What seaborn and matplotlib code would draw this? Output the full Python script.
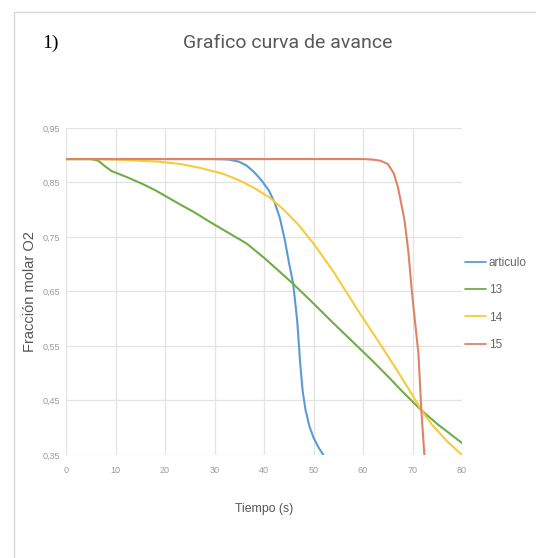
import numpy as np
import pandas as pd
import matplotlib
matplotlib.use("Agg")
import matplotlib.pyplot as plt
import seaborn as sns
from matplotlib.patches import Rectangle

# ---- data ----
series_names = ["articulo", "13", "14", "15"]

t_articulo = [0, 10, 20, 30, 33, 35, 36.5, 38, 39.5, 41, 42.2, 43.2, 44.2, 45, 45.9, 46.7, 47.3, 47.8, 48.4, 49.2, 50, 51, 52]
v_articulo = [0.893, 0.893, 0.893, 0.893, 0.892, 0.888, 0.881, 0.869, 0.854, 0.835, 0.812, 0.785, 0.745, 0.705, 0.664, 0.597, 0.52, 0.468, 0.432, 0.402, 0.382, 0.364, 0.35]

t_13 = [0, 5, 6.5, 8, 9.2, 12, 15.3, 18, 23, 26, 29, 32, 36.5, 40, 43.2, 45.9, 50, 54, 58, 62, 65.7, 68, 71.8, 75, 78, 80]
v_13 = [0.893, 0.893, 0.89, 0.879, 0.871, 0.861, 0.848, 0.836, 0.81, 0.795, 0.778, 0.762, 0.738, 0.712, 0.686, 0.664, 0.628, 0.592, 0.557, 0.522, 0.488, 0.466, 0.432, 0.407, 0.386, 0.372]

t_14 = [0, 5, 10, 15, 19, 23, 27, 31.7, 35, 38, 41.2, 44, 47, 50, 54, 59, 63, 66.9, 69.5, 71.8, 74, 77, 80]
v_14 = [0.893, 0.893, 0.892, 0.89, 0.888, 0.884, 0.877, 0.866, 0.854, 0.84, 0.822, 0.80, 0.772, 0.738, 0.687, 0.615, 0.56, 0.505, 0.467, 0.432, 0.405, 0.375, 0.35]

t_15 = [0, 10, 20, 30, 40, 50, 60, 62, 63.5, 65, 66.2, 67.1, 68.4, 69.2, 69.8, 70.5, 71.2, 71.8, 72.4]
v_15 = [0.893, 0.893, 0.893, 0.893, 0.893, 0.893, 0.893, 0.892, 0.89, 0.884, 0.867, 0.84, 0.78, 0.72, 0.657, 0.595, 0.536, 0.43, 0.35]

x_ticks = [0, 10, 20, 30, 40, 50, 60, 70, 80]
y_ticks = [0.35, 0.45, 0.55, 0.65, 0.75, 0.85, 0.95]
y_tick_labels = ["0,35", "0,45", "0,55", "0,65", "0,75", "0,85", "0,95"]

title_text = "Grafico curva de avance"
x_label = "Tiempo (s)"
y_label = "Fracción molar O2"
corner_label = "1)"

colors = ["#5B9BD5", "#70AD47", "#F7CB3A", "#DE8466"]

frames = []
for name, t, v in [("articulo", t_articulo, v_articulo), ("13", t_13, v_13),
                   ("14", t_14, v_14), ("15", t_15, v_15)]:
    frames.append(pd.DataFrame({"Tiempo": t, "Fraccion": v, "Serie": name}))
df = pd.concat(frames, ignore_index=True)

# ---- figure ----
sns.set_theme(style="whitegrid")
plt.rcParams["font.family"] = ["Liberation Sans", "DejaVu Sans"]

W, H = 536, 558
fig = plt.figure(figsize=(W / 100, H / 100), dpi=100)
fig.patch.set_facecolor("white")

# outer frame (light grey border)
fig.patches.append(Rectangle((14 / W, -0.05), 1.2, 1 - 12 / H + 0.05,
                             transform=fig.transFigure, fill=False,
                             edgecolor="#d9d9d9", linewidth=1.0))

ax = fig.add_axes([66 / W, 1 - 455 / H, (462 - 66) / W, (455 - 128) / H])
ax.set_facecolor("white")

sns.lineplot(data=df, x="Tiempo", y="Fraccion", hue="Serie", hue_order=series_names,
             palette=colors, sort=False, estimator=None, linewidth=1.5, ax=ax,
             legend=True)

ax.set_xlim(0, 80)
ax.set_ylim(0.35, 0.95)
ax.set_xticks(x_ticks)
ax.set_xticklabels([str(x) for x in x_ticks])
ax.set_yticks(y_ticks)
ax.set_yticklabels(y_tick_labels)
ax.tick_params(axis="both", labelsize=6.5, labelcolor="#9a9a9a", length=0)
ax.tick_params(axis="y", pad=4)
ax.tick_params(axis="x", pad=8)
ax.grid(True, color="#e3e3e3", linewidth=0.9)
for s in ax.spines.values():
    s.set_visible(False)

ax.set_xlabel(x_label, fontsize=8.8, color="#555555", labelpad=20)
ax.set_ylabel(y_label, fontsize=10.5, color="#555555", labelpad=4)

leg = ax.legend(loc="center left", bbox_to_anchor=(0.995, 0.462), frameon=False,
                fontsize=8.5, handlelength=1.8, handletextpad=0.25, labelspacing=1.3,
                borderaxespad=0.0)
for txt in leg.get_texts():
    txt.set_color("#666666")
for ln in leg.get_lines():
    ln.set_linewidth(1.3)

fig.text(288 / W, 1 - 43 / H, title_text, ha="center", va="center",
         fontsize=14, color="#595959", family=["Roboto", "DejaVu Sans"])
fig.text(42 / W, 1 - 43 / H, corner_label, ha="left", va="center",
         fontsize=14, color="black", family=["Liberation Serif", "DejaVu Serif"])

fig.savefig("out.png", dpi=100, facecolor="white")
